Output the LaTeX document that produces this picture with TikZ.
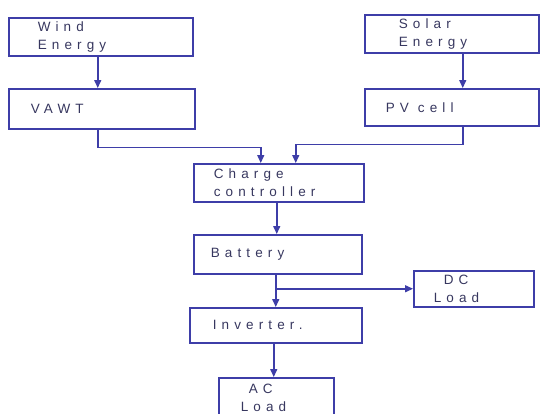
\documentclass[tikz,border=0pt]{standalone}
\usepackage{fontspec}
\newfontfamily\handfont[LetterSpace=38]{Liberation Sans}
\usetikzlibrary{arrows.meta}
\definecolor{ink}{RGB}{62,62,168}
\definecolor{pen}{RGB}{55,55,95}
\tikzset{
  box/.style={draw=ink, line width=1.5pt, anchor=north west, align=left,
    inner ysep=0pt, text=pen, font=\handfont\fontsize{13.5}{18}\selectfont},
  flow/.style={draw=ink, line width=1.5pt, -{Triangle[length=8pt,width=7pt]}}
}

\begin{document}
\begin{tikzpicture}[x=1pt, y=-1pt]
    \useasboundingbox (0,0) rectangle (540,413);

    % Sources
    \node[box, minimum height=38, text width=126, inner xsep=29] (wind) at (8,17) {Wind\\Energy};
    \node[box, minimum height=38, text width=106, inner xsep=34] (solar) at (364,14) {Solar\\Energy};

    % Converters
    \node[box, minimum height=40, text width=142, inner xsep=22] (vawt) at (8,88) {VAWT};
    \node[box, minimum height=37, text width=132, inner xsep=21] (pv) at (364,88) {PV\hspace{9pt}cell};

    % Storage chain
    \node[box, minimum height=38, text width=130, inner xsep=20] (cc) at (193,163) {Charge\\controller};
    \node[box, minimum height=39, text width=134, inner xsep=17] (battery) at (193,234) {Battery};
    \node[box, minimum height=35, text width=126, inner xsep=23] (inverter) at (189,307) {Inverter.};

    % Loads
    \node[box, minimum height=36, text width=80, inner xsep=20] (dc) at (413,270) {\hspace{10pt}DC\\Load};
    \node[box, minimum height=40, text width=71, inner xsep=22] (ac) at (218,377) {\hspace{8pt}AC\\Load};

    % Connectors
    \draw[flow] ([xshift=-3]wind.south) -- ([xshift=-3]wind.south |- vawt.north);
    \draw[flow] ([xshift=11]solar.south) -- ([xshift=11]solar.south |- pv.north);
    \draw[flow] ([xshift=-4]vawt.south) -- ++(0,18) -| ([xshift=-18]cc.north);
    \draw[flow] ([xshift=11]pv.south) -- ++(0,18) -| ([xshift=17]cc.north);
    \draw[flow] ([xshift=-2]cc.south) -- ([xshift=-2]cc.south |- battery.north);
    \draw[flow] (inverter.north |- battery.south) -- (inverter.north);
    \coordinate (tap) at (inverter.north |- dc.west);
    \draw[flow] (tap) -- (dc.west);
    \draw[flow] ([xshift=-2]inverter.south) -- ([xshift=-2]inverter.south |- ac.north);

\end{tikzpicture}
\end{document}
